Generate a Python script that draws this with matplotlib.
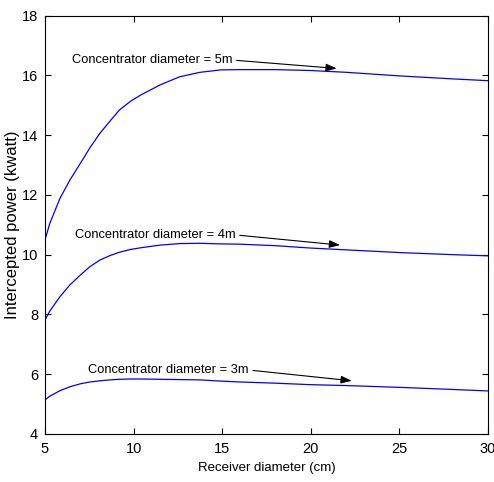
import matplotlib
matplotlib.use("Agg")
import matplotlib.pyplot as plt

plt.rcParams['font.family'] = ['Liberation Sans', 'DejaVu Sans']

# receiver diameter (cm)
receiver_d = [5, 5.28, 5.85, 6.41, 7, 7.54, 8.1, 8.67, 9.2, 9.8, 10.4, 11.5, 12.6,
              13.75, 14.9, 16, 18, 20, 22, 25, 28, 30]

# intercepted power (kwatt) for each concentrator diameter
power_5m = [10.5, 11.06, 11.89, 12.5, 13.06, 13.58, 14.06, 14.47, 14.84, 15.12, 15.34,
            15.68, 15.95, 16.10, 16.18, 16.19, 16.19, 16.16, 16.10, 15.98, 15.88, 15.82]
power_4m = [7.82, 8.12, 8.60, 8.99, 9.32, 9.60, 9.82, 9.97, 10.08, 10.17, 10.23,
            10.32, 10.37, 10.38, 10.36, 10.35, 10.30, 10.22, 10.16, 10.07, 10.00, 9.96]
power_3m = [5.14, 5.27, 5.45, 5.58, 5.68, 5.74, 5.78, 5.81, 5.83, 5.84, 5.84,
            5.83, 5.82, 5.81, 5.77, 5.74, 5.70, 5.65, 5.62, 5.56, 5.49, 5.44]

labels = ["Concentrator diameter = 5m",
          "Concentrator diameter = 4m",
          "Concentrator diameter = 3m"]
label_pos = [(6.52, 16.51), (6.69, 10.66), (7.44, 6.14)]
arrow_tip = [(21.46, 16.23), (21.65, 10.32), (22.31, 5.78)]

fig = plt.figure(figsize=(4.94, 4.82), dpi=100)
ax = fig.add_axes([0.0911, 0.0996, 0.8968, 0.8682])

for p in [power_5m, power_4m, power_3m]:
    ax.plot(receiver_d, p, color="#0000ff", lw=0.9)

for lab, pos, tip in zip(labels, label_pos, arrow_tip):
    ax.annotate(lab, xy=tip, xytext=pos, ha="left", va="center", fontsize=9.3,
                arrowprops=dict(arrowstyle="-|>,head_length=0.7,head_width=0.25",
                                color="k", lw=0.8, shrinkA=1, shrinkB=0,
                                relpos=(1, 0.5)))

ax.set_xlim(5, 30)
ax.set_ylim(4, 18)
ax.set_xticks([5, 10, 15, 20, 25, 30])
ax.set_yticks([4, 6, 8, 10, 12, 14, 16, 18])
ax.tick_params(direction="in", top=True, right=True, length=4, labelsize=10.5)
ax.tick_params(axis="x", pad=6)
ax.tick_params(axis="y", pad=5)
ax.set_xlabel("Receiver diameter (cm)", fontsize=9.5, labelpad=4)
ax.set_ylabel("Intercepted power (kwatt)", fontsize=12, labelpad=1)

fig.savefig("out.png", dpi=100)
